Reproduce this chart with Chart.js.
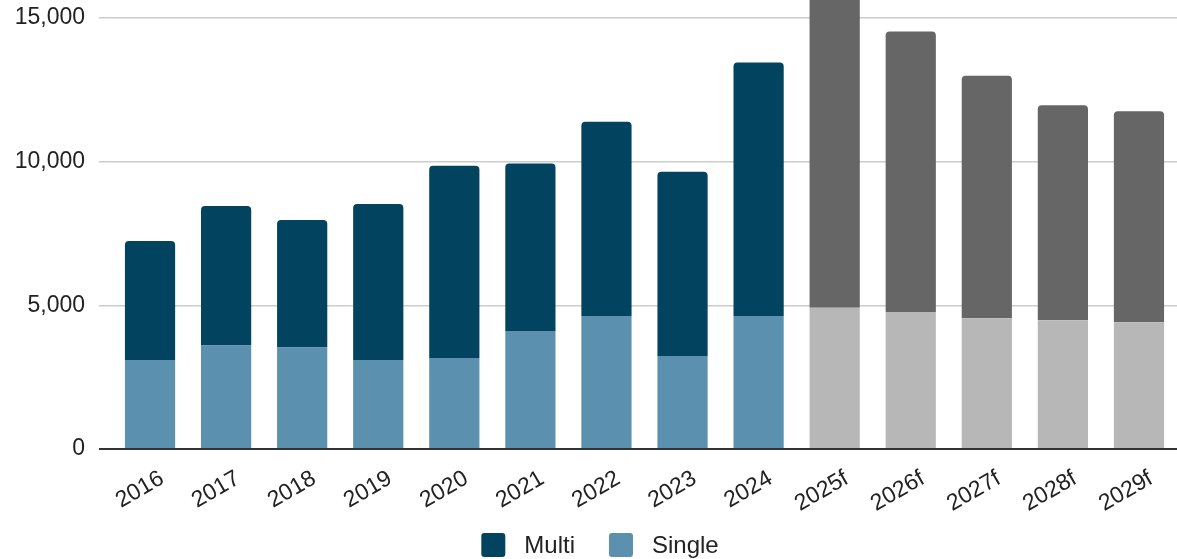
<!DOCTYPE html>
<html>
<head>
<meta charset="utf-8">
<title>Housing units</title>
<script src="https://cdn.jsdelivr.net/npm/chart.js@4"></script>
<style>
  html, body { margin: 0; padding: 0; background: #fff; }
  #wrap { width: 1177px; height: 559px; }
</style>
</head>
<body>
<div id="wrap"><canvas id="unitsChart"></canvas></div>
<script>
const years = ["2016", "2017", "2018", "2019", "2020", "2021", "2022", "2023", "2024",
               "2025f", "2026f", "2027f", "2028f", "2029f"];
const multiUnits  = [4140, 4860, 4440, 5430, 6690, 5830, 6760, 6410, 8820, 11580, 9760, 8440, 7490, 7350];
const singleUnits = [3100, 3600, 3530, 3100, 3170, 4110, 4630, 3240, 4630, 4920, 4770, 4550, 4480, 4410];
const yTicks = [0, 5000, 10000, 15000];
const firstForecast = years.indexOf("2025f");

const FONT = "'Liberation Sans', Arial, sans-serif";

// forecast years are drawn in greys
const shade = (actual, forecast) => c =>
  c.dataIndex >= firstForecast ? forecast : actual;

// simple legend drawn under the axis labels, Multi first
const bottomKey = {
  id: "bottomKey",
  afterDraw(chart) {
    const ctx = chart.ctx;
    const box = 24, gap = 19, spacing = 34, top = 533;
    const items = chart.data.datasets.slice().reverse().map(ds => ({
      text: ds.label,
      color: ds.keyColor
    }));
    ctx.save();
    ctx.font = "24px " + FONT;
    ctx.textBaseline = "middle";
    ctx.textAlign = "left";
    const widths = items.map(it => box + gap + ctx.measureText(it.text).width);
    const total = widths.reduce((a, b) => a + b, 0) + spacing * (items.length - 1);
    let x = 600 - total / 2;
    items.forEach((it, i) => {
      ctx.fillStyle = it.color;
      ctx.beginPath();
      ctx.roundRect(x, top, box, box, 3);
      ctx.fill();
      ctx.fillStyle = "#222";
      ctx.fillText(it.text, x + box + gap, top + box / 2 + 1);
      x += widths[i] + spacing;
    });
    ctx.restore();
  }
};

Chart.defaults.font.family = FONT;
Chart.defaults.color = "#222";

new Chart(document.getElementById("unitsChart"), {
  type: "bar",
  data: {
    labels: years,
    datasets: [
      {
        label: "Single",
        data: singleUnits,
        keyColor: "#5b91ae",
        backgroundColor: shade("#5b91ae", "#b7b7b7"),
        borderRadius: 0
      },
      {
        label: "Multi",
        data: multiUnits,
        keyColor: "#02445f",
        backgroundColor: shade("#02445f", "#666666"),
        borderRadius: { topLeft: 4, topRight: 4, bottomLeft: 0, bottomRight: 0 },
        borderSkipped: false
      }
    ]
  },
  options: {
    responsive: true,
    maintainAspectRatio: false,
    animation: false,
    layout: { padding: { left: 13, right: 0, top: 0, bottom: 0 } },
    datasets: { bar: { barPercentage: 0.66, categoryPercentage: 1 } },
    scales: {
      x: {
        stacked: true,
        grid: { display: false },
        border: { display: false },
        ticks: {
          autoSkip: false,
          minRotation: 30,
          maxRotation: 30,
          padding: 8,
          labelOffset: 12,
          font: { size: 23 },
          color: "#222"
        },
        afterFit: s => { s.height = 110; s.paddingLeft = 0; s.paddingRight = 0; }
      },
      y: {
        stacked: true,
        min: 0,
        max: 15630,
        border: { display: false },
        grid: {
          color: c => c.tick && c.tick.value === 0 ? "#333" : "#cccccc",
          lineWidth: c => c.tick && c.tick.value === 0 ? 2 : 1.5,
          tickLength: 13
        },
        ticks: {
          padding: 14,
          font: { size: 23 },
          color: "#222"
        },
        afterBuildTicks: s => { s.ticks = yTicks.map(v => ({ value: v })); },
        afterFit: s => { s.width = 99; s.paddingTop = 0; }
      }
    },
    plugins: {
      tooltip: { enabled: false },
      legend: { display: false }
    }
  },
  plugins: [bottomKey]
});
</script>
</body>
</html>
